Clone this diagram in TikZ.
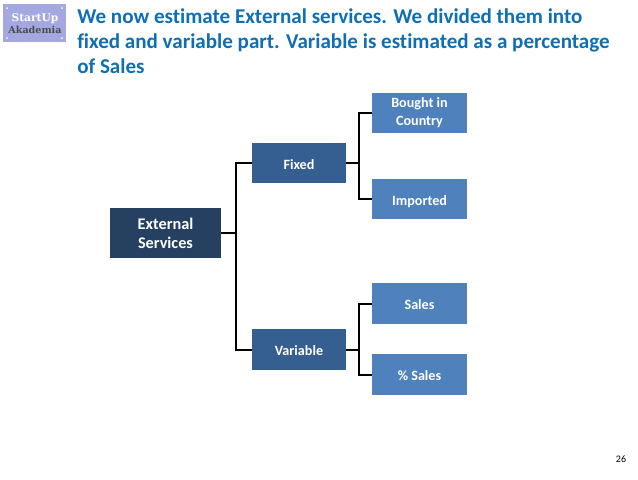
\documentclass[tikz,border=0pt]{standalone}
\usepackage{fontspec}
\setmainfont{Carlito}[Ligatures=NoCommon]
\newfontfamily\slab{DejaVu Serif}
\definecolor{titleblue}{HTML}{0F6FB5}
\definecolor{darkbox}{HTML}{254061}
\definecolor{midbox}{HTML}{365F91}
\definecolor{lightbox}{HTML}{4F81BD}
\definecolor{logobg}{HTML}{A3A8E0}
\tikzset{
 x=0.75pt,y=-0.75pt,
 box/.style={draw=none,minimum width=71pt,minimum height=30.4pt,inner sep=0pt,align=center,text=white,font=\fontsize{10.6}{13.4}\selectfont\bfseries,outer sep=0pt},
 rootbox/.style={box,fill=darkbox,minimum width=83.5pt,minimum height=38pt,font=\fontsize{12.2}{14.2}\selectfont\bfseries},
 midnode/.style={box,fill=midbox},
 leaf/.style={box,fill=lightbox},
 oneline/.style={text height=9pt,text depth=0pt},
 conn/.style={draw=black,line width=1.5pt},
 titletext/.style={anchor=north west,inner sep=0pt,text=titleblue,align=left,font=\fontsize{15.8}{18.8}\selectfont\bfseries}
}
\begin{document}
\begin{tikzpicture}
\useasboundingbox (0,0) rectangle (638,479);
\fill[white] (0,0) rectangle (638,479);
% logo
\fill[logobg] (3,4) rectangle (66,42);
\foreach \px/\py in {7/8,62/8,7/38,62/38}{\fill[white] (\px,\py) circle (1);}
\node[inner sep=0pt,text=white,font=\slab\fontsize{8}{9}\selectfont\bfseries] (logoa) at (35,19) {StartUp};
\node[inner sep=0pt,text=black!70,font=\slab\fontsize{7.2}{9}\selectfont\bfseries] (logob) at (35,29.5) {Akademia};
% title
\node[titletext] (title) at (77,8.5) {We now estimate External services. We divided them into\\fixed and variable part. Variable is estimated as a percentage\\of Sales};
% boxes
\node[rootbox] (ext) at (165.5,233) {External\\Services};
\node[midnode,oneline] (fixed) at (299,163) {Fixed};
\node[midnode,oneline] (var) at (299,349.5) {Variable};
\node[leaf] (bought) at (419.5,113) {Bought in\\Country};
\node[leaf,oneline] (imp) at (419.5,199) {Imported};
\node[leaf,oneline] (sales) at (419.5,303.5) {Sales};
\node[leaf,oneline] (psales) at (419.5,374.5) {\% Sales};
% connectors
\coordinate (b1) at (236,233);
\coordinate (b2) at (359,163);
\coordinate (b3) at (359,349.5);
\draw[conn] (ext.east) -- (b1);
\draw[conn] (fixed.west) -| (b1) |- (var.west);
\draw[conn] (fixed.east) -- (b2);
\draw[conn] (bought.west) -| (b2) |- (imp.west);
\draw[conn] (var.east) -- (b3);
\draw[conn] (sales.west) -| (b3) |- (psales.west);
% page number
\node[inner sep=0pt,font=\fontsize{7.5}{9}\selectfont] (num) at (621,459) {26};
\end{tikzpicture}
\end{document}
